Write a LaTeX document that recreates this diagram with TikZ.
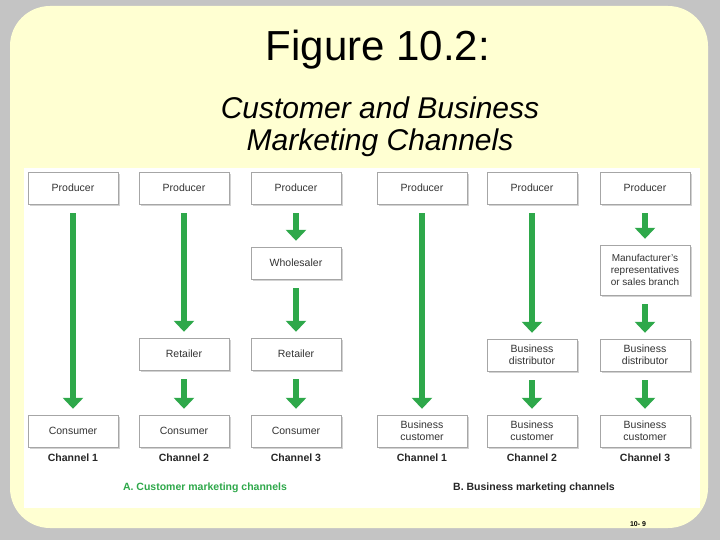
\documentclass[tikz,border=0pt]{standalone}
\usepackage{fontspec}
\setmainfont{Liberation Sans}
\usetikzlibrary{arrows.meta,shadows}
\definecolor{cream}{HTML}{FFFFD2}
\definecolor{marble}{HTML}{C4C4C4}
\definecolor{grn}{HTML}{2EA84A}
\begin{document}
\begin{tikzpicture}[x=1pt,y=-1pt,
  box/.style={draw=gray!70,fill=white,minimum width=90pt,minimum height=32pt,inner sep=1pt,align=center,font=\fontsize{10.5}{12}\selectfont,text=black!80,drop shadow={shadow xshift=2pt,shadow yshift=-2pt,opacity=0.35}},
  arr/.style={grn,line width=6pt,-{Triangle[width=20pt,length=11pt]}},
  chan/.style={font=\bfseries\fontsize{10.5}{12}\selectfont,text=black!85},
  sec/.style={font=\bfseries\fontsize{10.5}{12}\selectfont}]
\useasboundingbox (0,0) rectangle (720,540);
\fill[marble] (0,0) rectangle (720,540);
\fill[cream,rounded corners=40pt] (10,6) rectangle (708,528);
\fill[white] (24,168) rectangle (700,508);
\node (t1) at (378,50) {\fontsize{42}{46}\selectfont Figure 10.2:};
\node (t2) at (380,108) {\itshape\fontsize{30}{33}\selectfont Customer and Business};
\node (t3) at (380,143) {\itshape\fontsize{30}{33}\selectfont Marketing Channels};
% column A
\node[box] (p1) at (73,188) {Producer};
\node[box] (p2) at (184,188) {Producer};
\node[box] (p3) at (296,188) {Producer};
\node[box] (w3) at (296,263) {Wholesaler};
\node[box] (r2) at (184,354) {Retailer};
\node[box] (r3) at (296,354) {Retailer};
\node[box] (c1) at (73,431) {Consumer};
\node[box] (c2) at (184,431) {Consumer};
\node[box] (c3) at (296,431) {Consumer};
% column B
\node[box] (q1) at (422,188) {Producer};
\node[box] (q2) at (532,188) {Producer};
\node[box] (q3) at (645,188) {Producer};
\node[box,minimum height=50pt,font=\fontsize{10}{12}\selectfont] (m3) at (645,270) {Manufacturer's\\representatives\\or sales branch};
\node[box] (d2) at (532,355) {Business\\distributor};
\node[box] (d3) at (645,355) {Business\\distributor};
\node[box] (b1) at (422,431) {Business\\customer};
\node[box] (b2) at (532,431) {Business\\customer};
\node[box] (b3) at (645,431) {Business\\customer};
% arrows
\foreach \a/\b in {p1/c1,p2/r2,r2/c2,p3/w3,w3/r3,r3/c3,q1/b1,q2/d2,d2/b2,q3/m3,m3/d3,d3/b3}
  \draw[arr] ([yshift=-9pt]\a.south) -- ([yshift=6pt]\b.north);
% labels
\node[chan] (l1) at (73,458) {Channel 1};
\node[chan] (l2) at (184,458) {Channel 2};
\node[chan] (l3) at (296,458) {Channel 3};
\node[chan] (l4) at (422,458) {Channel 1};
\node[chan] (l5) at (532,458) {Channel 2};
\node[chan] (l6) at (645,458) {Channel 3};
\node[sec,text=grn] (sa) at (205,488) {A. Customer marketing channels};
\node[sec,text=black!85] (sb) at (534,488) {B. Business marketing channels};
\node[font=\bfseries\fontsize{7}{8}\selectfont] (pg) at (638,524) {10- 9};
\end{tikzpicture}
\end{document}
